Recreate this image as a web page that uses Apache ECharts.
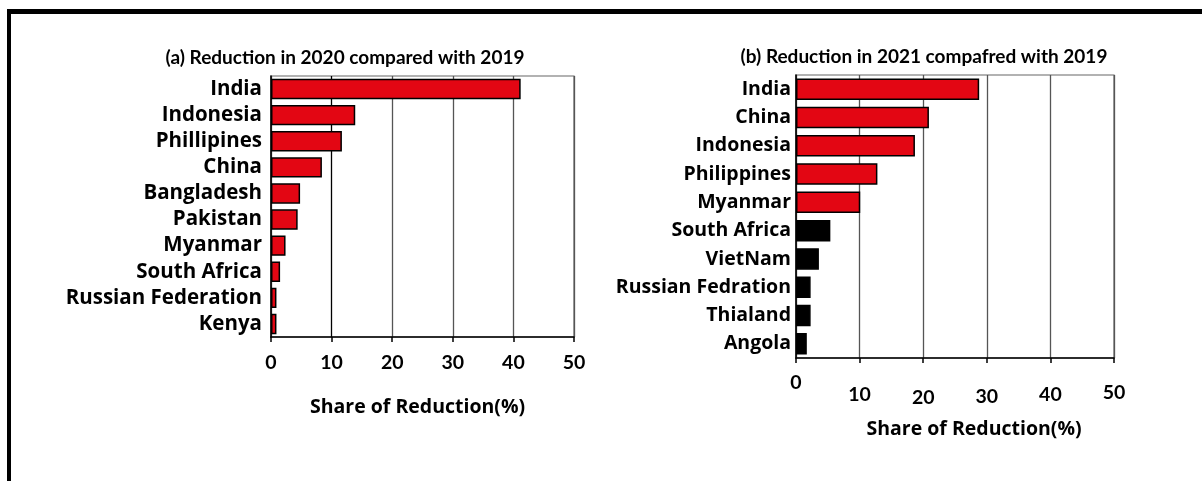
<!DOCTYPE html>
<html>
<head>
<meta charset="utf-8">
<script src="https://cdn.jsdelivr.net/npm/echarts@6/dist/echarts.min.js"></script>
<style>
html,body{margin:0;padding:0;background:#fff;}
#c{width:1202px;height:481px;}
</style>
</head>
<body>
<div id="c"></div>
<script>
// ---- data ----
const catsA = ['India','Indonesia','Phillipines','China','Bangladesh','Pakistan','Myanmar','South Africa','Russian Federation','Kenya'];
const valsA = [41.2, 13.9, 11.7, 8.4, 4.8, 4.4, 2.4, 1.5, 0.9, 0.9];
const catsB = ['India','China','Indonesia','Philippines','Myanmar','South Africa','VietNam','Russian Fedration','Thialand','Angola'];
const valsB = [28.8, 20.9, 18.7, 12.8, 10.1, 5.4, 3.6, 2.3, 2.3, 1.7];
const redCountB = 5; // first five bars red, rest black
const xTicks = [0, 10, 20, 30, 40, 50];
const titleA = '(a) Reduction in 2020 compared with 2019';
const titleB = '(b) Reduction in 2021 compafred with 2019';
const axisName = 'Share of Reduction(%)';

const RED = '#e30613';
const FONT = 'Lato';
const LFONT = 'Open Sans';
const chart = echarts.init(document.getElementById('c'));

const catAxis = (idx, margin) => ({
  type: 'category', gridIndex: idx, data: idx === 0 ? catsA : catsB, inverse: true,
  axisLine: {show: true, lineStyle: {color: '#000', width: 1.5}},
  axisTick: {show: false},
  axisLabel: {interval: 0, hideOverlap: false, color: '#000', fontFamily: LFONT, fontWeight: 'bold',
    fontSize: idx === 0 ? 20.5 : 19.5, margin: margin}
});

const padB = {0: 0, 10: 12, 20: 15, 30: 14, 40: 12, 50: 10};
const richB = {};
xTicks.forEach(t => {
  richB['p' + t] = {color: '#000', fontFamily: FONT, fontWeight: 'bold', fontSize: 19.5, padding: [padB[t], 0, 0, 0]};
});

const valAxis = (idx) => ({
  type: 'value', gridIndex: idx, min: xTicks[0], max: xTicks[xTicks.length - 1], interval: 10,
  axisLine: {show: true, lineStyle: {color: '#000', width: 1.5}},
  axisTick: {show: true, length: 5, lineStyle: {color: '#000', width: 1.5}},
  splitLine: {show: true, lineStyle: {
    color: idx === 0 ? ['#555', '#000', '#555', '#555', '#555', '#555'] : '#555', width: 1.3}},
  axisLabel: idx === 0
    ? {color: '#000', fontFamily: FONT, fontWeight: 'bold', fontSize: 19.5, margin: 16}
    : {margin: 15, formatter: v => '{p' + v + '|' + v + '}', rich: richB},
  name: axisName, nameLocation: 'middle', nameGap: idx === 0 ? 60 : 61,
  nameTextStyle: {color: '#000', fontFamily: LFONT, fontWeight: 'bold', fontSize: 19.5,
    padding: idx === 0 ? [0, 10, 0, 0] : [0, 0, 0, 38]}
});

chart.setOption({
  animation: false,
  backgroundColor: '#fff',
  title: [
    {text: titleA, left: 340, top: 43, textAlign: 'center',
     textStyle: {color: '#000', fontFamily: FONT, fontWeight: 'bold', fontSize: 19}},
    {text: titleB, left: 919, top: 42, textAlign: 'center',
     textStyle: {color: '#000', fontFamily: FONT, fontWeight: 'bold', fontSize: 19}}
  ],
  graphic: [
    {type: 'rect', shape: {x: 7, y: 9, width: 1195, height: 5}, style: {fill: '#000'}},
    {type: 'rect', shape: {x: 7, y: 9, width: 4, height: 472}, style: {fill: '#000'}}
  ],
  grid: [
    {left: 271, top: 76, width: 303, height: 261, show: true, borderColor: '#666', borderWidth: 1.2},
    {left: 796, top: 75, width: 318, height: 283, show: true, borderColor: '#666', borderWidth: 1.2}
  ],
  xAxis: [valAxis(0), valAxis(1)],
  yAxis: [catAxis(0, 9), catAxis(1, 5)],
  series: [
    {type: 'bar', xAxisIndex: 0, yAxisIndex: 0, data: valsA, barCategoryGap: '22%',
     itemStyle: {color: RED, borderColor: '#000', borderWidth: 1.5}},
    {type: 'bar', xAxisIndex: 1, yAxisIndex: 1, barCategoryGap: '24%',
     data: valsB.map((v, i) => ({value: v, itemStyle: {color: i < redCountB ? RED : '#000'}})),
     itemStyle: {borderColor: '#000', borderWidth: 1.5}}
  ]
});
</script>
</body>
</html>
